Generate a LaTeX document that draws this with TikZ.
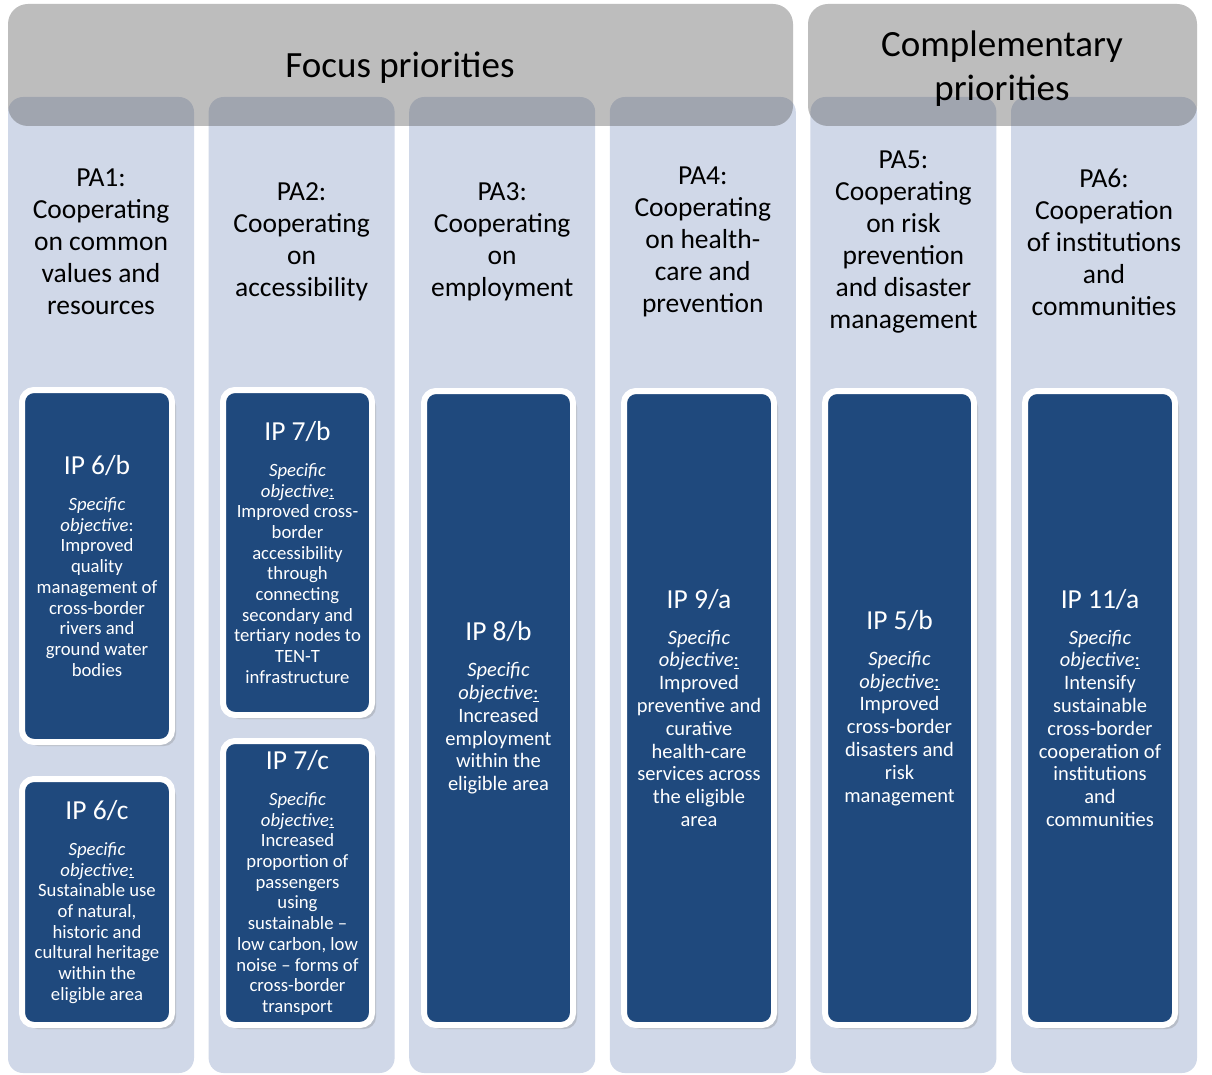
\documentclass[tikz,border=0pt]{standalone}
\usepackage{fontspec}
\setmainfont{Carlito}
\usetikzlibrary{shadows}
\definecolor{colfill}{HTML}{D0D8E8}
\definecolor{ipblue}{HTML}{1F497D}
\definecolor{hdrgray}{HTML}{525252}
\newcommand{\ulcolon}{\underline{:}}
\newcommand{\iptitle}[1]{{\fontsize{27.5}{33}\selectfont #1}}
\tikzset{
  column/.style={fill=colfill, rounded corners=15pt, draw=none},
  header/.style={fill=hdrgray, fill opacity=0.375, rounded corners=20pt, draw=none},
  hdrtext/.style={font=\fontsize{37}{44}\selectfont, align=center, text=black, inner sep=0pt},
  patext/.style={font=\fontsize{27.5}{32}\selectfont, align=center, text=black, inner sep=0pt},
  ipbox/.style={fill=ipblue, draw=white, line width=6pt, rounded corners=12pt,
    anchor=north west, inner sep=0pt, outer sep=0pt,
    drop shadow={shadow xshift=4pt, shadow yshift=-4pt, opacity=0.3}},
  smalltext/.style={text=white, align=center, inner sep=0pt, font=\fontsize{18.7}{20.7}\selectfont},
  bigtext/.style={text=white, align=center, inner sep=0pt, font=\fontsize{20.5}{22.8}\selectfont},
}
\begin{document}
\begin{tikzpicture}[x=1pt,y=-1pt]
\useasboundingbox[fill=white] (0,0) rectangle (1212,1075);
% columns
\fill[column] (8,97) rectangle (194,1073);
\fill[column] (208.6,97) rectangle (394.6,1073);
\fill[column] (409.2,97) rectangle (595.2,1073);
\fill[column] (609.8,97) rectangle (795.8,1073);
\fill[column] (810.4,97) rectangle (996.4,1073);
\fill[column] (1011,97) rectangle (1197,1073);
% headers
\fill[header] (8,4) rectangle (793,126);
\fill[header] (808,4) rectangle (1197,126);
\node[hdrtext] (focus) at (400,68) {Focus priorities};
\node[hdrtext] (compl) at (1002,69) {Complementary\\priorities};
% PA titles
\node[patext] (pa1) at (101,242) {PA1:\\Cooperating\\on common\\values and\\resources};
\node[patext] (pa2) at (301.6,242) {PA2:\\Cooperating\\on\\accessibility};
\node[patext] (pa3) at (502.2,242) {PA3:\\Cooperating\\on\\employment};
\node[patext] (pa4) at (702.8,242) {PA4:\\Cooperating\\on health-\\care and\\prevention};
\node[patext] (pa5) at (903.4,242) {PA5:\\Cooperating\\on risk\\prevention\\and disaster\\management};
\node[patext] (pa6) at (1104,242) {PA6:\\Cooperation\\of institutions\\and\\communities};
% IP boxes
\node[ipbox, minimum width=150pt, minimum height=352pt] (b6b) at (22,390) {};
\node[ipbox, minimum width=150pt, minimum height=246pt] (b6c) at (22,779) {};
\node[ipbox, minimum width=149pt, minimum height=325pt] (b7b) at (223,390) {};
\node[ipbox, minimum width=149pt, minimum height=284pt] (b7c) at (223,741) {};
\node[ipbox, minimum width=149pt, minimum height=634pt] (b8b) at (424,391) {};
\node[ipbox, minimum width=150pt, minimum height=634pt] (b9a) at (624,391) {};
\node[ipbox, minimum width=149pt, minimum height=634pt] (b5b) at (825,391) {};
\node[ipbox, minimum width=150pt, minimum height=634pt] (b11a) at (1025,391) {};
% IP texts
\node[smalltext] (t6b) at (b6b.center) {\iptitle{IP 6/b}\\[15pt]\textit{Specific}\\\textit{objective}:\\Improved\\quality\\management of\\cross-border\\rivers and\\ground water\\bodies};
\node[smalltext] (t6c) at (b6c.center) {\iptitle{IP 6/c}\\[15pt]\textit{Specific}\\\textit{objective}\ulcolon\\Sustainable use\\of natural,\\historic and\\cultural heritage\\within the\\eligible area};
\node[smalltext] (t7b) at (b7b.center) {\iptitle{IP 7/b}\\[15pt]\textit{Specific}\\\textit{objective}\ulcolon\\Improved cross-\\border\\accessibility\\through\\connecting\\secondary and\\tertiary nodes to\\TEN-T\\infrastructure};
\node[smalltext] (t7c) at (b7c.center) {\iptitle{IP 7/c}\\[15pt]\textit{Specific}\\\textit{objective}\ulcolon\\Increased\\proportion of\\passengers\\using\\sustainable –\\low carbon, low\\noise – forms of\\cross-border\\transport};
\node[bigtext] (t8b) at (b8b.center) {\iptitle{IP 8/b}\\[13pt]\textit{Specific}\\\textit{objective}\ulcolon\\Increased\\employment\\within the\\eligible area};
\node[bigtext] (t9a) at (b9a.center) {\iptitle{IP 9/a}\\[13pt]\textit{Specific}\\\textit{objective}\ulcolon\\Improved\\preventive and\\curative\\health-care\\services across\\the eligible\\area};
\node[bigtext] (t5b) at (b5b.center) {\iptitle{IP 5/b}\\[13pt]\textit{Specific}\\\textit{objective}\ulcolon\\Improved\\cross-border\\disasters and\\risk\\management};
\node[bigtext] (t11a) at (b11a.center) {\iptitle{IP 11/a}\\[13pt]\textit{Specific}\\\textit{objective}\ulcolon\\Intensify\\sustainable\\cross-border\\cooperation of\\institutions\\and\\communities};
\end{tikzpicture}
\end{document}
